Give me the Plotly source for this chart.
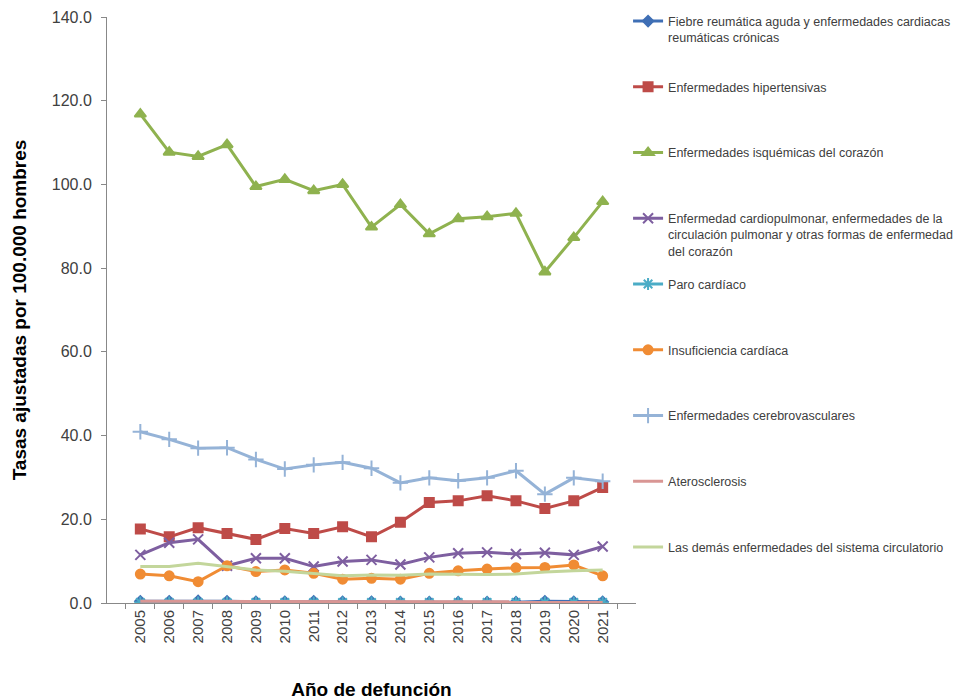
import plotly.graph_objects as go

years = [str(y) for y in range(2005, 2022)]

fiebre = [0.4, 0.4, 0.5, 0.4, 0.3, 0.3, 0.4, 0.3, 0.3, 0.2, 0.2, 0.2, 0.2, 0.2, 0.4, 0.3, 0.3]
hipertensivas = [17.7, 15.8, 18.0, 16.6, 15.2, 17.8, 16.6, 18.2, 15.8, 19.3, 24.0, 24.4, 25.6, 24.4, 22.6, 24.4, 27.6]
isquemicas = [116.8, 107.7, 106.7, 109.5, 99.5, 101.2, 98.5, 100.0, 89.8, 95.2, 88.2, 91.8, 92.3, 93.1, 79.1, 87.3, 95.9]
cardiopulmonar = [11.5, 14.4, 15.2, 8.9, 10.7, 10.7, 8.7, 9.9, 10.3, 9.2, 10.9, 11.9, 12.1, 11.7, 12.0, 11.5, 13.5]
paro = [0.1, 0.1, 0.1, 0.1, 0.1, 0.1, 0.1, 0.1, 0.1, 0.1, 0.1, 0.1, 0.1, 0.1, 0.1, 0.1, 0.1]
insuficiencia = [6.9, 6.5, 5.1, 8.9, 7.5, 7.9, 7.1, 5.7, 5.9, 5.7, 7.1, 7.7, 8.1, 8.4, 8.5, 9.1, 6.5]
cerebrovasculares = [40.9, 39.1, 37.0, 37.1, 34.3, 32.0, 33.0, 33.6, 32.2, 28.7, 29.9, 29.2, 29.9, 31.6, 26.0, 29.9, 29.1]
aterosclerosis = [0.4, 0.4, 0.4, 0.4, 0.3, 0.3, 0.3, 0.3, 0.3, 0.3, 0.3, 0.3, 0.3, 0.3, 0.3, 0.3, 0.3]
demas = [8.7, 8.7, 9.5, 8.7, 7.9, 7.6, 7.1, 6.5, 6.7, 6.6, 6.9, 6.8, 6.8, 6.9, 7.4, 7.7, 7.9]

NB = "\u00a0"
PAD2 = "<br>" + NB + "<br>" + NB
series = [
    ("Fiebre reumática aguda y enfermedades cardiacas<br>reumáticas crónicas<br>" + NB, fiebre, "#3F6FB5", "diamond", 8),
    ("Enfermedades hipertensivas" + PAD2, hipertensivas, "#BE4B48", "square", 9),
    ("Enfermedades isquémicas del corazón" + PAD2, isquemicas, "#8FB24F", "triangle-up", 10),
    ("Enfermedad cardiopulmonar, enfermedades de la<br>circulación pulmonar y otras formas de enfermedad<br>del corazón", cardiopulmonar, "#7E5FA0", "x-thin-open", 10),
    ("Paro cardíaco" + PAD2, paro, "#4BACC6", "asterisk-open", 10),
    ("Insuficiencia cardíaca" + PAD2, insuficiencia, "#F08C34", "circle", 9),
    ("Enfermedades cerebrovasculares" + PAD2, cerebrovasculares, "#95B3D7", "cross-thin-open", 11),
    ("Aterosclerosis" + PAD2, aterosclerosis, "#D99694", None, 0),
    ("Las demás enfermedades del sistema circulatorio" + PAD2, demas, "#C3D69B", None, 0),
]

fig = go.Figure()
for i, (name, vals, color, sym, size) in enumerate(series):
    if sym is None:
        mode = "lines"
        marker = None
    else:
        mode = "lines+markers"
        marker = dict(symbol=sym, size=size, color=color, line=dict(color=color, width=2))
    fig.add_trace(go.Scatter(
        x=years, y=vals, name=name, mode=mode,
        line=dict(color=color, width=3),
        marker=marker, legendgroup="g%d" % i,
    ))

FONT = "Liberation Sans, Arial, sans-serif"

fig.update_layout(
    width=964, height=700,
    margin=dict(l=107, r=328, t=17, b=97, autoexpand=False),
    plot_bgcolor="white", paper_bgcolor="white",
    font=dict(family=FONT, color="#404040"),
    showlegend=True,
    legend=dict(
        x=0.985, xanchor="left", y=1.018, yanchor="top",
        font=dict(family=FONT, size=12.5, color="#404040"),
        valign="top", tracegroupgap=14, maxheight=690,
        bgcolor="rgba(0,0,0,0)",
    ),
    xaxis=dict(
        type="category", tickangle=-90, tickson="boundaries",
        ticks="outside", ticklen=5, tickcolor="#888888",
        showline=True, linecolor="#888888", linewidth=1,
        showgrid=False, zeroline=False,
        tickfont=dict(family=FONT, size=15, color="#404040"),
        title=dict(text="<b>Año de defunción</b>", font=dict(family=FONT, size=19, color="#000000"), standoff=40),
    ),
    yaxis=dict(
        range=[0, 140], dtick=20, tickformat=".1f",
        ticks="outside", ticklen=5, tickcolor="#888888",
        showline=True, linecolor="#888888", linewidth=1,
        showgrid=False, zeroline=False, ticklabelstandoff=6,
        tickfont=dict(family=FONT, size=16, color="#404040"),
        title=dict(text="<b>Tasas ajustadas por 100.000 hombres</b>", font=dict(family=FONT, size=19, color="#000000"), standoff=20),
    ),
)

fig.write_html("out.html", config={"displayModeBar": False},
               post_script="document.body.style.margin='0';")
